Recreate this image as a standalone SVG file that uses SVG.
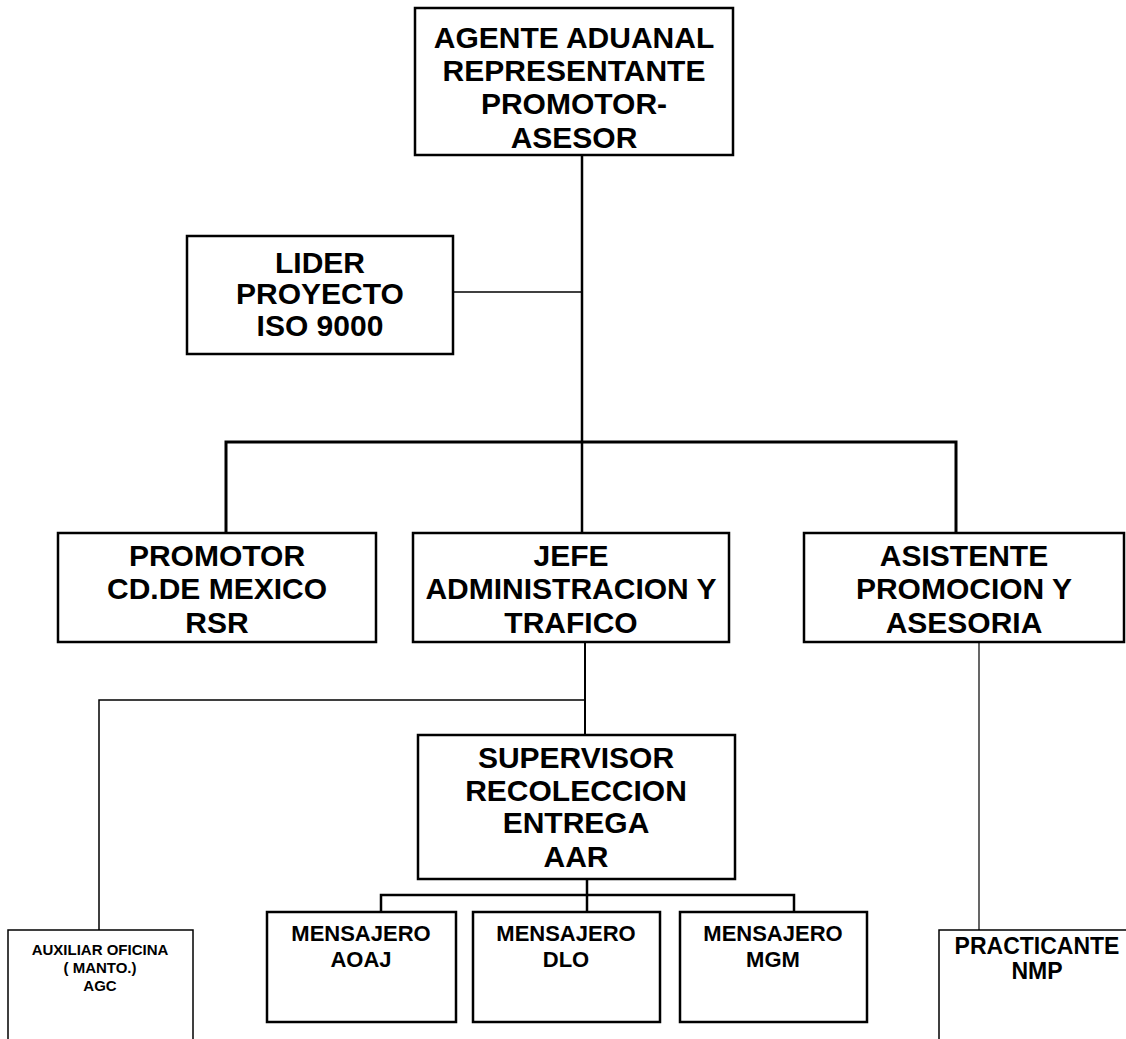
<svg xmlns="http://www.w3.org/2000/svg" width="1126" height="1039" viewBox="0 0 1126 1039">
<style>
.box{fill:#fff;stroke:#000;stroke-width:2.5}
.thin{fill:#fff;stroke:#000;stroke-width:1.5}
.t{font-family:"Liberation Sans",Arial,sans-serif;font-weight:bold;fill:#000;text-anchor:middle}
.l{font-size:30px}
.m{font-size:22px}
.s{font-size:15px}
.p{font-size:23px}
.c{stroke:#000;fill:none}
</style>
<rect width="1126" height="1039" fill="#fff"/>
<g id="connectors">
<line class="c" x1="582" y1="155" x2="582" y2="533" stroke-width="2.5"/>
<line class="c" x1="453" y1="292" x2="582" y2="292" stroke-width="1.5"/>
<polyline class="c" points="226,533 226,442 956,442 956,533" stroke-width="3"/>
<line class="c" x1="585" y1="642" x2="585" y2="735" stroke-width="2"/>
<polyline class="c" points="585,700 99,700 99,930" stroke-width="1.5"/>
<line class="c" x1="979" y1="642" x2="979" y2="930" stroke-width="1.2"/>
<line class="c" x1="587" y1="879" x2="587" y2="912" stroke-width="2.5"/>
<polyline class="c" points="381,912 381,895 794,895 794,912" stroke-width="2.5"/>
</g>
<g id="agente">
<rect class="box" x="415" y="8" width="318" height="147"/>
<text class="t l" x="574" y="48">AGENTE ADUANAL</text>
<text class="t l" x="574" y="81">REPRESENTANTE</text>
<text class="t l" x="574" y="114">PROMOTOR-</text>
<text class="t l" x="574" y="148">ASESOR</text>
</g>
<g id="lider">
<rect class="box" x="187" y="236" width="266" height="118"/>
<text class="t l" x="320" y="273">LIDER</text>
<text class="t l" x="320" y="304">PROYECTO</text>
<text class="t l" x="320" y="336">ISO 9000</text>
</g>
<g id="promotor">
<rect class="box" x="58" y="533" width="318" height="109"/>
<text class="t l" x="217" y="566">PROMOTOR</text>
<text class="t l" x="217" y="599">CD.DE MEXICO</text>
<text class="t l" x="217" y="633">RSR</text>
</g>
<g id="jefe">
<rect class="box" x="413" y="533" width="316" height="109"/>
<text class="t l" x="571" y="566">JEFE</text>
<text class="t l" x="571" y="599">ADMINISTRACION Y</text>
<text class="t l" x="571" y="633">TRAFICO</text>
</g>
<g id="asistente">
<rect class="box" x="804" y="533" width="320" height="109"/>
<text class="t l" x="964" y="566">ASISTENTE</text>
<text class="t l" x="964" y="599">PROMOCION Y</text>
<text class="t l" x="964" y="633">ASESORIA</text>
</g>
<g id="supervisor">
<rect class="box" x="418" y="735" width="317" height="144"/>
<text class="t l" x="576" y="768">SUPERVISOR</text>
<text class="t l" x="576" y="801">RECOLECCION</text>
<text class="t l" x="576" y="833">ENTREGA</text>
<text class="t l" x="576" y="867">AAR</text>
</g>
<g id="auxiliar">
<rect class="thin" x="8" y="930" width="185" height="130"/>
<text class="t s" x="100" y="955">AUXILIAR OFICINA</text>
<text class="t s" x="100" y="973">( MANTO.)</text>
<text class="t s" x="100" y="991">AGC</text>
</g>
<g id="mensajero-aoaj">
<rect class="box" x="267" y="912" width="189" height="110"/>
<text class="t m" x="361" y="941">MENSAJERO</text>
<text class="t m" x="361" y="967">AOAJ</text>
</g>
<g id="mensajero-dlo">
<rect class="box" x="473" y="912" width="187" height="110"/>
<text class="t m" x="566" y="941">MENSAJERO</text>
<text class="t m" x="566" y="967">DLO</text>
</g>
<g id="mensajero-mgm">
<rect class="box" x="680" y="912" width="187" height="110"/>
<text class="t m" x="773" y="941">MENSAJERO</text>
<text class="t m" x="773" y="967">MGM</text>
</g>
<g id="practicante">
<rect class="thin" x="939" y="930" width="200" height="130"/>
<text class="t p" x="1037" y="954">PRACTICANTE</text>
<text class="t p" x="1037" y="979">NMP</text>
</g>
</svg>
